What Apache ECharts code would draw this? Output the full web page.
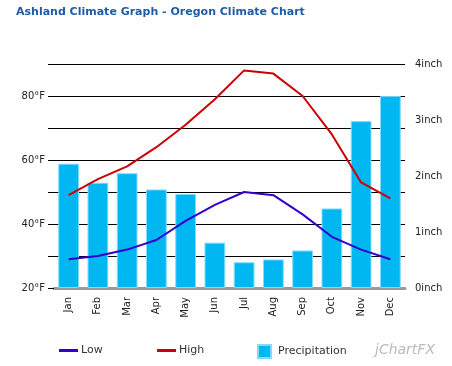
<!DOCTYPE html>
<html><head><meta charset="utf-8">
<script src="https://cdn.jsdelivr.net/npm/echarts@6/dist/echarts.min.js"></script>
<style>html,body{margin:0;padding:0;background:#fff}#c{width:452px;height:366px}</style>
</head><body><div id="c"></div>
<script>
const months = ['Jan','Feb','Mar','Apr','May','Jun','Jul','Aug','Sep','Oct','Nov','Dec'];
const lowF = [29, 30, 32, 35, 41, 46, 50, 49, 43, 36, 32, 29];
const highF = [49, 54, 58, 64, 71, 79, 88, 87, 80, 68, 53, 48];
const precipIn = [2.22, 1.88, 2.05, 1.76, 1.68, 0.81, 0.46, 0.51, 0.67, 1.42, 2.98, 3.43];
const title = 'Ashland Climate Graph - Oregon Climate Chart';

const font = 'DejaVu Sans';
const chart = echarts.init(document.getElementById('c'), null, {renderer:'canvas'});
chart.setOption({
  animation:false,
  backgroundColor:'#fff',
  title:{text:title,left:16,top:7,padding:0,textStyle:{fontFamily:font,fontSize:11,fontWeight:'bold',color:'#1f5ba6'}},
  grid:{left:54,right:47,top:64,bottom:78},
  xAxis:{type:'category',data:months,
    axisLine:{show:true,lineStyle:{color:'#999',width:3}},
    axisTick:{show:false},
    axisLabel:{rotate:90,margin:9,fontFamily:font,fontSize:10,color:'#222'}},
  yAxis:[
    {type:'value',min:20,max:90,interval:10,position:'left',
      axisLine:{show:false},
      axisTick:{show:true,length:6,lineStyle:{color:'#000'}},
      splitLine:{show:true,lineStyle:{color:'#000',width:1}},
      axisLabel:{margin:9,fontFamily:font,fontSize:10,color:'#222',formatter:v=>v%20===0&&v<90?v+'°F':''}},
    {type:'value',min:0,max:4,interval:1,position:'right',
      axisLine:{show:false},axisTick:{show:false},splitLine:{show:false},
      axisLabel:{margin:10,fontFamily:font,fontSize:10,color:'#222',formatter:v=>v+'inch'}}
  ],
  legend:[
    {data:[{name:'Low',icon:'rect'}],left:59,top:345,padding:0,itemWidth:19,itemHeight:3,itemGap:4,textStyle:{fontFamily:font,fontSize:11,color:'#333',padding:[0,0,0,-2]}},
    {data:[{name:'High',icon:'rect'}],left:157,top:345,padding:0,itemWidth:19,itemHeight:3,textStyle:{fontFamily:font,fontSize:11,color:'#333',padding:[0,0,0,-2]}},
    {data:[{name:'Precipitation',icon:'rect'}],left:257,top:344,padding:0,itemWidth:13,itemHeight:13,textStyle:{fontFamily:font,fontSize:11,color:'#333',padding:[0,0,0,2]}}
  ],
  graphic:[{type:'text',left:375,top:343,style:{text:'jChartFX',fontFamily:font,fontSize:14,fontStyle:'italic',fill:'#bbb'}}],
  series:[
    {name:'Precipitation',type:'bar',yAxisIndex:1,data:precipIn,barWidth:'71%',
      itemStyle:{color:'#00b7f1',borderColor:'#7fdcff',borderWidth:1},z:1},
    {name:'Low',type:'line',data:lowF,symbol:'none',lineStyle:{color:'#3300cc',width:2},itemStyle:{color:'#3300cc'},z:3},
    {name:'High',type:'line',data:highF,symbol:'none',lineStyle:{color:'#cc0000',width:2},itemStyle:{color:'#cc0000'},z:3}
  ]
});
</script></body></html>
